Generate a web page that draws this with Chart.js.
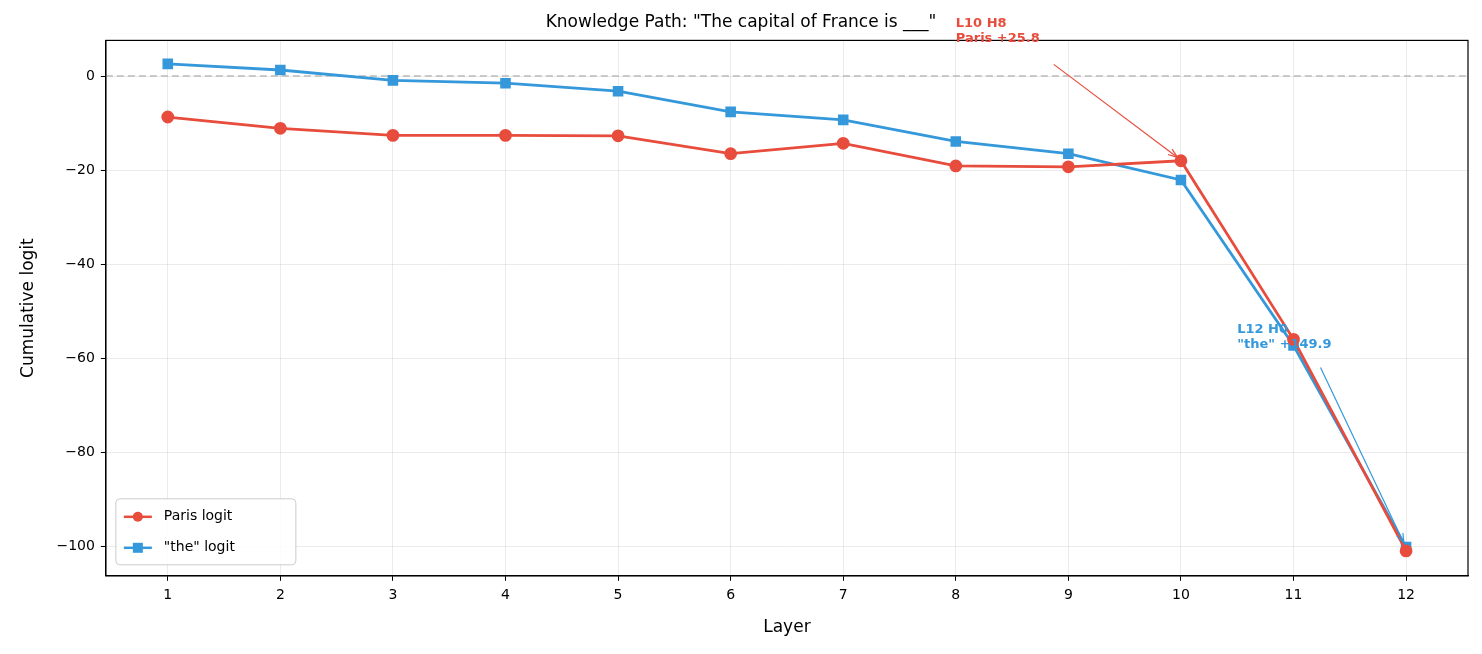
<!DOCTYPE html>
<html>
<head>
<meta charset="utf-8">
<script src="https://cdn.jsdelivr.net/npm/chart.js@4"></script>
<style>
  html, body { margin: 0; padding: 0; background: #fff; }
  #wrap { width: 1482px; height: 654px; }
</style>
</head>
<body>
<div id="wrap"><canvas id="chart" width="1482" height="654"></canvas></div>
<script>
const layers = [1, 2, 3, 4, 5, 6, 7, 8, 9, 10, 11, 12];
const parisLogit = [-8.7, -11.1, -12.6, -12.6, -12.7, -16.5, -14.3, -19.1, -19.3, -18.0, -56.0, -101.0];
const theLogit = [2.6, 1.3, -0.9, -1.5, -3.2, -7.6, -9.3, -13.9, -16.5, -22.1, -57.3, -100.2];
const yTicks = [0, -20, -40, -60, -80, -100];

const RED = '#e74c3c', BLUE = '#3498db';
const font = 'DejaVu Sans';

// zero line, frame, annotations, legend inside the plot
const extras = {
    id: 'extras',
    beforeDatasetsDraw(chart) {
        const { ctx, chartArea: a, scales: { y } } = chart;
        ctx.save();
        ctx.strokeStyle = '#bbbbbb';
        ctx.lineWidth = 1.5;
        ctx.setLineDash([7, 4]);
        ctx.beginPath();
        ctx.moveTo(a.left, y.getPixelForValue(0));
        ctx.lineTo(a.right, y.getPixelForValue(0));
        ctx.stroke();
        ctx.restore();
    },
    afterDatasetsDraw(chart) {
        const { ctx, chartArea: a, scales: { x, y } } = chart;
        ctx.save();
        ctx.strokeStyle = '#000';
        ctx.lineWidth = 1.2;
        ctx.strokeRect(a.left, a.top, a.right - a.left, a.bottom - a.top);
        function note(lines, color, tx, ty, ax, ay, px, py) {
            ctx.fillStyle = color;
            ctx.font = 'bold 13px ' + font;
            ctx.textBaseline = 'top';
            const X = x.getPixelForValue(tx), Y = y.getPixelForValue(ty);
            lines.forEach((l, i) => ctx.fillText(l, X, Y + i * 15));
            const sx = x.getPixelForValue(ax), sy = y.getPixelForValue(ay);
            const ex = x.getPixelForValue(px), ey = y.getPixelForValue(py);
            ctx.strokeStyle = color;
            ctx.lineWidth = 1.2;
            ctx.beginPath(); ctx.moveTo(sx, sy); ctx.lineTo(ex, ey); ctx.stroke();
            const ang = Math.atan2(ey - sy, ex - sx);
            ctx.beginPath();
            ctx.moveTo(ex, ey);
            ctx.lineTo(ex - 10 * Math.cos(ang - 0.35), ey - 10 * Math.sin(ang - 0.35));
            ctx.moveTo(ex, ey);
            ctx.lineTo(ex - 10 * Math.cos(ang + 0.35), ey - 10 * Math.sin(ang + 0.35));
            ctx.stroke();
        }
        note(['L10 H8', 'Paris +25.8'], RED, 8, 12.5, 8.87, 2.5, 9.97, -17.3);
        note(['L12 H0', '"the" +149.9'], BLUE, 10.5, -52.5, 11.24, -62, 11.98, -99.3);

        // legend
        const lx = a.left + 10, ly = a.bottom - 77;
        ctx.fillStyle = 'rgba(255,255,255,0.85)';
        ctx.strokeStyle = '#cccccc';
        ctx.lineWidth = 1;
        ctx.beginPath();
        ctx.roundRect(lx, ly, 180, 66, 4);
        ctx.fill(); ctx.stroke();
        [['Paris logit', RED, 'circle'], ['"the" logit', BLUE, 'rect']].forEach((it, i) => {
            const cy = ly + 18 + i * 31;
            ctx.strokeStyle = it[1]; ctx.fillStyle = it[1]; ctx.lineWidth = 2.5;
            ctx.beginPath(); ctx.moveTo(lx + 8, cy); ctx.lineTo(lx + 36, cy); ctx.stroke();
            if (it[2] === 'circle') { ctx.beginPath(); ctx.arc(lx + 22, cy, 5, 0, Math.PI * 2); ctx.fill(); }
            else ctx.fillRect(lx + 17, cy - 5, 10, 10);
            ctx.fillStyle = '#000';
            ctx.font = '14px ' + font;
            ctx.textBaseline = 'middle';
            ctx.fillText(it[0], lx + 48, cy);
        });
        ctx.restore();
    }
};

new Chart(document.getElementById('chart').getContext('2d'), {
    type: 'line',
    data: {
        datasets: [
            {
                label: 'Paris logit',
                data: layers.map((l, i) => ({ x: l, y: parisLogit[i] })),
                borderColor: RED, backgroundColor: RED,
                borderWidth: 2.8, pointStyle: 'circle', pointRadius: 5, pointHoverRadius: 5
            },
            {
                label: '"the" logit',
                data: layers.map((l, i) => ({ x: l, y: theLogit[i] })),
                borderColor: BLUE, backgroundColor: BLUE,
                borderWidth: 2.8, pointStyle: 'rect', pointRadius: 5.5, pointHoverRadius: 5.5
            }
        ]
    },
    options: {
        responsive: false,
        animation: false,
        layout: { padding: { left: 14, right: 14, top: 6, bottom: 12 } },
        plugins: {
            legend: { display: false },
            tooltip: { enabled: false },
            title: {
                display: true,
                text: 'Knowledge Path: "The capital of France is ___"',
                color: '#000', font: { family: font, size: 17, weight: 'normal' },
                padding: { top: 6, bottom: 8 }
            }
        },
        scales: {
            x: {
                type: 'linear', min: 0.45, max: 12.55,
                afterBuildTicks: s => { s.ticks = layers.map(v => ({ value: v })); },
                ticks: { color: '#000', font: { family: font, size: 14 }, padding: 6 },
                grid: { color: 'rgba(0,0,0,0.08)', tickColor: '#000', tickLength: 5 },
                border: { color: '#000', width: 1.2 },
                title: { display: true, text: 'Layer', color: '#000', font: { family: font, size: 17 }, padding: { top: 8 } }
            },
            y: {
                min: -106.3, max: 7.6,
                afterBuildTicks: s => { s.ticks = yTicks.map(v => ({ value: v })); },
                ticks: {
                    color: '#000', font: { family: font, size: 14 }, padding: 6,
                    callback: v => String(v).replace('-', '\u2212')
                },
                grid: { color: 'rgba(0,0,0,0.08)', tickColor: '#000', tickLength: 5 },
                border: { color: '#000', width: 1.2 },
                title: { display: true, text: 'Cumulative logit', color: '#000', font: { family: font, size: 17 }, padding: { bottom: 12 } }
            }
        }
    },
    plugins: [extras]
});
</script>
</body>
</html>
